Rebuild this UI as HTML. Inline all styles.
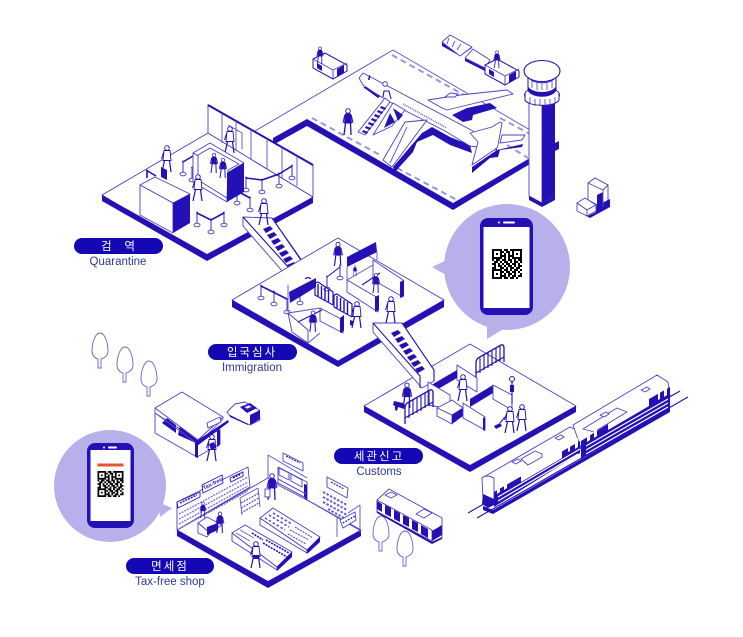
<!DOCTYPE html>
<html lang="ko"><head><meta charset="utf-8"><title>Airport diagram</title>
<style>
html,body{margin:0;padding:0;background:#fff;width:743px;height:637px;overflow:hidden}
svg{display:block}
.t{stroke:#5a50c8;stroke-width:.9;fill:none}
.w{stroke:#4a40c4;stroke-width:.9;fill:#fff;stroke-linejoin:round}
.b{fill:#2410b4}
.bs{stroke:#2410b4;fill:none;stroke-width:1.6}
.d{stroke:#9c96dc;stroke-width:2;stroke-dasharray:6 4;fill:none}
.s{stroke:#2410b4;stroke-width:1.1;fill:none}
.ko{font-family:"Liberation Sans","Noto Sans CJK KR",sans-serif;font-size:11.5px;fill:#fff;text-anchor:middle}
.en{font-family:"Liberation Sans","Noto Sans CJK KR",sans-serif;font-size:11.5px;fill:#2b3a9c;text-anchor:middle}
</style></head><body>
<svg width="743" height="637" viewBox="0 0 743 637" xmlns="http://www.w3.org/2000/svg">
<defs>
<symbol id="qr" viewBox="0 0 15 15" overflow="visible">
<path fill-rule="evenodd" d="M0 0h5v5h-5zM1 1v3h3v-3zM10 0h5v5h-5zM11 1v3h3v-3zM0 10h5v5h-5zM1 11v3h3v-3z"/>
<path d="M2 2h1v1h-1zM12 2h1v1h-1zM2 12h1v1h-1z"/>
<path stroke="#000" stroke-width="1" d="M6 .5h2M9 .5h1M5 1.500h1M7 1.500h2M6 2.500h1M8 2.500h1M5 3.500h2M8 3.500h2M6 4.500h1M8 4.500h1M0 5.500h1M2 5.500h2M5 5.500h2M8 5.500h2M11 5.500h1M13 5.500h2M1 6.500h2M4 6.500h1M6 6.500h2M9 6.500h1M11 6.500h2M14 6.500h1M0 7.500h2M3 7.500h1M5 7.500h1M7 7.500h2M10 7.500h2M13 7.500h1M1 8.500h1M3 8.500h2M6 8.500h1M8 8.500h2M11 8.500h1M13 8.500h2M0 9.500h2M4 9.500h2M7 9.500h1M9 9.500h2M12 9.500h2M6 10.500h2M9 10.500h1M11 10.500h2M14 10.500h1M5 11.500h1M7 11.500h2M10 11.500h2M13 11.500h1M6 12.500h1M8 12.500h2M11 12.500h1M14 12.500h1M5 13.500h2M8 13.500h1M10 13.500h2M13 13.500h2M6 14.500h2M9 14.500h2M12 14.500h1"/>
</symbol>
<g id="p">
<circle cx="0" cy="-24" r="2.300" fill="#fff" stroke="#2410b4" stroke-width=".9"/>
<path d="M-3-21.500h6l1 10h-8z" fill="#2410b4"/>
<path d="M-2.500-11.500L-4 0M2.500-11.500L3 0" stroke="#2410b4" stroke-width="1.300" fill="none"/>
<path d="M-3.300-20L-5-12M3.300-20L5-12" stroke="#2410b4" stroke-width="1" fill="none"/>
</g>
<g id="pw">
<circle cx="0" cy="-24" r="2.300" fill="#fff" stroke="#2410b4" stroke-width=".9"/>
<path d="M-3-21.500h6l1 10h-8z" fill="#fff" stroke="#2410b4" stroke-width=".9"/>
<path d="M-2.500-11.500L-5 0M2.500-11.500L4 0" stroke="#2410b4" stroke-width="1.200" fill="none"/>
<path d="M-3.300-20L-5.500-13" stroke="#2410b4" stroke-width="1" fill="none"/>
</g>
<g id="st">
<path d="M0 0v-12" stroke="#5a50c8" stroke-width="1.200"/>
<ellipse cx="0" cy="0" rx="3" ry="1.800" fill="#fff" stroke="#5a50c8" stroke-width="1"/>
<circle cx="0" cy="-12.500" r="1" fill="#5a50c8"/>
</g>
<g id="tree">
<path d="M0-33c-5 0-8 10-8 18 0 5 3 7 6 8v9h3v-9c3-1 7-3 7-8 0-8-3-18-8-18z" fill="#fff" stroke="#6a60cc" stroke-width=".9"/>
</g>
<g id="fence">
<path d="M0 0v-16q0-4 3-5.500L25-34q3-1 3 3v14" fill="none" stroke="#2410b4" stroke-width="1.300"/>
<path d="M0-6L28-22" stroke="#2410b4" stroke-width="1.100"/>
<path d="M4-21v15M8-24v15M12-26v15M16-28v15M20-31v15M24-33v15" stroke="#2410b4" stroke-width="1.100"/>
</g>
<g id="fs">
<path d="M0 0l3-1 15 10v13M0 0v12l18 10" fill="none" stroke="#2410b4" stroke-width="1.200"/>
<path d="M3 1v12M6.500 3v12M10 5v12M13.500 7v12" stroke="#2410b4" stroke-width="1.400"/>
</g>
<g id="tug">
<path d="M0 14l20 11 14-8v-3L20 22 0 11z" fill="#2410b4"/>
<path d="M0 5l12-6 22 12v6l-14 8L0 14z" fill="#fff" stroke="#2410b4" stroke-width="1"/>
<path d="M0 5l20 11 14-7M20 16v9" fill="none" stroke="#4a40c4" stroke-width=".9"/>
<path d="M24 15l7-4v8l-7 4z" fill="#2410b4"/>
<path d="M4 9l5 3v5l-5-3z" fill="#2410b4"/>
</g>
</defs>

<!-- Runway -->
<path class="t" d="M255 131L393 50L530 130"/>
<path class="b" d="M273 138L307 119L453 203L530 158V164L453 210L307 126L273 145z"/>
<path class="d" d="M312 118L380 155M397 168L457 200M392 55L473 100M500 118L530 134M507 145L528 158"/>

<!-- plane shadows -->
<path class="b" d="M363 87L378 98L382 95L370 87z"/>
<path class="b" d="M393 167L422 133L432 127L450 137L470 145L472 153L450 145L433 135L417 142L413 152L395 172z"/>
<path class="b" d="M452 115L467 108L490 103L497 108L473 115L472 120L463 122z"/>
<path class="b" d="M472 173V167L497 150L523 144L522 147L500 150L498 157L490 158z"/>
<!-- far wing -->
<path class="w" d="M428 100L460 95L507 90L513 94L447 110L442 108z"/>
<path class="w" d="M445 97l5-4 8 1-3 3z"/>
<!-- fuselage -->
<path class="w" d="M359 78L363 73L473 131L495 145L497 150L470 146L445 131L400 108L375 93L363 85z"/>
<path d="M403 104L447 128" stroke="#6a60cc" stroke-width="1.500" stroke-dasharray="1 1" fill="none"/>
<path class="b" d="M369 75l-1 5 1.500 0 1-4z"/>
<!-- near wing -->
<path class="w" d="M405 122L427 120L392 167L383 160z"/>
<path class="t" d="M407 127L390 163"/>
<!-- tail -->
<path class="w" d="M502 135L525 135L522 140L500 143z"/>
<path class="w" d="M470 133L492 127L500 122L502 123L498 145L497 148L472 165L478 142z"/>
<!-- stairs & truck -->
<path class="w" d="M358 132L385 98L390 102L365 135z"/>
<path class="b" d="M363 130l5 2-1 2-5-2zM366 126l5 2-1 2-5-2zM369 122l5 2-1 2-5-2zM372 118l5 2-1 2-5-2zM375 114l5 2-1 2-5-2zM378 110l5 2-1 2-5-2zM381 106l5 2-1 2-5-2z"/>
<path class="w" d="M373 135L393 103L405 110L392 126z"/>
<path class="b" d="M393 108L403 115L398 121zM390 113L395 122L384 128z"/>
<path class="s" d="M383 97l1-6h5l2 8"/>
<circle cx="385" cy="84" r="2.300" fill="#fff" stroke="#2410b4" stroke-width=".8"/>
<use href="#p" x="348" y="135"/>

<!-- tugs / carts -->
<use href="#tug" x="313" y="54"/>
<use href="#p" transform="translate(320,64) scale(.65)"/>
<path class="b" d="M442 42v4l18 10 12-8v-1l-12 9z"/>
<path class="w" d="M442 42L450 35L472 47L460 56z"/>
<path class="t" d="M449 38l-2 6M455 41l-3 6M461 44l-4 6"/>
<path class="b" d="M465 58v3l20 10v-3z"/>
<path class="w" d="M465 58L473 49L490 60L485 68z"/>
<use href="#tug" x="485" y="60"/>
<use href="#p" transform="translate(497,68) scale(.65)"/>

<!-- forklift -->
<path class="w" d="M588 183V200L603 208L608 200V185L595 178z"/>
<path class="b" d="M577 211L590 218L610 207V199L596 206V212L588 216z"/>
<path class="b" d="M597 195l6-3v12l-6 3z"/>
<path class="w" d="M588 183L595 178L608 185L603 190z"/>
<path class="t" d="M603 190v17"/>
<path class="w" d="M577 203L585 198L596 205L587 210z"/>
<path class="w" d="M577 203V211L587 216V210z"/>
<path class="w" d="M587 210L596 205V211L587 216z"/>

<!-- tower -->
<path class="w" d="M529 100H542V203L529 196z"/>
<path class="b" d="M542 102H555V196L542 203zM555 143l4-2v8l-4 2z"/>
<path class="b" d="M529 196l13 7 13-7v4l-13 7-13-7z"/>
<ellipse cx="542" cy="95" rx="17.500" ry="8" fill="#fff" stroke="#2410b4" stroke-width="1"/>
<path d="M525 93v7c3 7 31 7 34 0v-7" fill="#fff" stroke="#2410b4" stroke-width="1"/>
<path d="M530 97v7M535 99v7M540 99v7M545 99v7M550 99v7M555 97v7" stroke="#4a40c4" stroke-width=".8"/>
<path d="M528 76c3 9 25 9 28 0v14c-3 8-25 8-28 0z" fill="#fff" stroke="#2410b4" stroke-width="1"/>
<path d="M528 86c3 8 25 8 28 0v4c-3 9-25 9-28 0z" fill="#2410b4"/>
<path d="M532 80v8M537 82v8M542 82v8M547 82v8M552 80v8" stroke="#4a40c4" stroke-width=".8"/>
<ellipse cx="542" cy="71" rx="18" ry="10.500" fill="#fff" stroke="#2410b4" stroke-width="1.100"/>

<!-- Quarantine -->
<path class="w" d="M102 195L208 133L313 197L207 259z"/>
<path class="b" d="M102 195L207 254L313 197V203L207 261L102 201z"/>
<path class="w" d="M208 105L313 165V197L208 133z"/>
<path d="M208 105L313 165" stroke="#2410b4" stroke-width="2" fill="none"/>
<path class="t" d="M222 113v30M236 121v30M251 130v30M267 139v30M282 148v30M297 156v30"/>
<path class="t" d="M228 125l14 8v16"/>
<use href="#pw" x="230" y="153"/>
<use href="#pw" x="167" y="172"/>
<path class="b" d="M161 167l6 3v10l-6-3z"/>
<use href="#st" x="183" y="174"/><use href="#st" x="192" y="180"/>
<use href="#st" x="262" y="192"/><use href="#st" x="279" y="186"/><use href="#st" x="292" y="178"/>
<use href="#st" x="246" y="190"/>
<use href="#st" x="237" y="203"/><use href="#st" x="250" y="210"/>
<use href="#st" x="197" y="225"/><use href="#st" x="211" y="232"/><use href="#st" x="224" y="225"/>
<path class="bs" d="M183 162L193 156M262 180L279 174M279 174L292 166M246 178L262 180M237 191L250 198M197 213L211 220L224 213"/>
<path class="bs" d="M146 170l10 6M147 170v8"/>
<path class="w" d="M193 153L210 143L244 163L227 173z"/>
<path class="w" d="M193 153V182L227 202V173z"/>
<path class="w" d="M198 155l12-7 29 16-11 6L227 198 198 180z"/>
<use href="#p" transform="translate(214,173) scale(.75)"/>
<use href="#p" transform="translate(223,178) scale(.75)"/>
<path class="b" d="M227 173L244 163V192L227 202z"/>
<use href="#pw" x="198" y="201"/>
<path class="w" d="M140 185L155 177L190 194L173 203z"/>
<path class="w" d="M140 185V215L173 233V203z"/>
<path class="b" d="M173 203L190 194V223L173 233z"/>

<!-- escalator 1 -->
<path class="w" d="M243 217L272 218L303 262L304 273L290 280L243 226z"/>
<path class="s" d="M272 218L303 263V274M243 217L290 269V282" stroke-width="1.400"/>
<path class="b" d="M263 229l7-3 3 3-7 4zM267 235l7-3 3 3-7 4zM271 241l7-3 3 3-7 4zM275 247l7-3 3 3-7 4zM279 253l7-3 3 3-7 4zM283 259l7-3 3 3-7 4zM287 265l7-3 3 3-7 4z"/>
<use href="#pw" x="264" y="225"/>

<!-- Immigration -->
<path class="w" d="M232 300L338 238L444 300L338 361z"/>
<path class="b" d="M232 300L338 361L444 300V307L338 367L232 307z"/>
<path class="w" d="M373 260L403 280V297L373 280z"/>
<path class="b" d="M400 282l4-2v16l-4 2z"/>
<path class="w" d="M347 280L378 298V312L347 292z"/>
<path class="b" d="M375 297L379 295V310L375 312z"/>
<path class="t" d="M347 280L373 265"/>
<path class="s" d="M362 285L380 273"/>
<use href="#p" transform="translate(376,293) scale(.75)"/>
<path class="t" d="M347 267v14M377 252v8"/>
<path class="b" d="M347 257L376 242L377 252L347 267z"/>
<use href="#p" transform="translate(338,266) scale(.9)"/>
<use href="#p" transform="translate(355,276) scale(.4)"/>
<use href="#st" x="340" y="278"/><use href="#st" x="327" y="289"/>
<path class="s" d="M327 277L340 267"/>
<path class="t" d="M327 277v11"/>
<use href="#fs" x="315" y="283"/>
<use href="#fs" x="334" y="295"/>
<use href="#st" x="261" y="298"/><use href="#st" x="274" y="304"/><use href="#st" x="287" y="312"/>
<path class="bs" d="M261 286L287 299"/>
<use href="#st" x="300" y="303"/>
<path class="s" d="M305 279q3-3 6 0"/>
<path class="t" d="M288 285v27"/>
<path class="b" d="M289 292L316 278V287L290 303z"/>
<path class="w" d="M320 308L343 320V333L320 321z"/>
<path class="w" d="M288 313L308 330V343L292 332z"/>
<path class="t" d="M288 313L320 308M308 343L320 333"/>
<path class="s" d="M298 322L322 310"/>
<path class="b" d="M340 318l4-3v16l-4 2z"/>
<use href="#p" transform="translate(313,332) scale(.8)"/>
<use href="#pw" x="357" y="328"/>
<path class="b" d="M350 320l3 1v5l-3-1z"/>

<!-- Bubble 1 -->
<path fill="#b8b0ea" d="M432 267L447 260L455 280z"/>
<path fill="#b8b0ea" d="M487 339L487 322L505 328z"/>
<circle cx="507" cy="267" r="63" fill="#b8b0ea"/>
<rect x="480" y="218" width="53" height="97" rx="8" fill="#2410b4"/>
<rect x="483.500" y="227" width="46" height="81" fill="#fff"/>
<rect x="498" y="221.500" width="2" height="2" rx="1" fill="#fff"/>
<rect x="503" y="221.500" width="12" height="2" rx="1" fill="#fff"/>
<use href="#qr" x="492" y="249" width="30" height="30"/>

<!-- Customs -->
<path class="w" d="M364 406L470 344L576 406L470 466z"/>
<path class="b" d="M364 406L470 465L576 406V412L470 472L364 412z"/>
<path class="w" d="M373 323L402 323L434 370L434 381L422 388L373 332z"/>
<path class="s" d="M402 323L434 370V381M373 323L420 376V388" stroke-width="1.400"/>
<path class="b" d="M391 333l7-3 3 3-7 4zM395 339l7-3 3 3-7 4zM399 345l7-3 3 3-7 4zM403 351l7-3 3 3-7 4zM407 357l7-3 3 3-7 4zM411 363l7-3 3 3-7 4zM415 369l7-3 3 3-7 4z"/>
<use href="#pw" x="391" y="323"/>
<use href="#fence" x="476" y="379"/>
<path class="w" d="M457 365L477 378V392L457 380z"/>
<path class="b" d="M433 384L457 370V378L433 392zM470 399L493 385V393L470 407z"/>
<path class="w" d="M428 382L450 395V409L428 405z"/>
<path class="w" d="M493 385L512 395V410L493 399z"/>
<path class="w" d="M437 408L452 400L463 408L452 415z"/>
<path class="w" d="M437 408V416L452 424V415z"/>
<path class="b" d="M452 415L463 408V416L452 424z"/>
<path class="w" d="M463 403L485 417V430L463 418z"/>
<path class="b" d="M483 418l2-1v14l-2-1z"/>
<use href="#pw" x="463" y="401"/>
<use href="#fence" x="405" y="424"/>
<use href="#p" transform="translate(407,408) scale(.95)"/>
<path class="b" d="M394 401l9 2 3 3-2 3-6-2-1 4-2-1 0-4-2-1z"/>
<path class="s" d="M512 404V378"/><circle cx="512" cy="379" r="2.500" fill="#fff" stroke="#2410b4"/>
<rect x="510" y="385" width="4" height="7" class="b"/>
<use href="#pw" x="510" y="433"/>
<use href="#pw" x="522" y="431"/>
<path class="b" d="M494 426l6-3 2 3-6 3z"/>
<path class="s" d="M500 423l5-6"/>

<!-- Train -->
<path class="s" d="M468 513L680 391M477 518L688 397" stroke-width="1.400"/>
<path class="w" d="M482 478L570 427L578 431L580 450L493 505z"/>
<path class="w" d="M573 425L657 375L668 382L670 396L581 448z"/>
<path class="w" d="M482 478Q486 474 494 478L494 503L483 499z"/>
<path class="b" d="M494 492L520 477L561 452L580 441L580 453L494 507z"/>
<path class="b" d="M581 441L608 424L649 399L670 387L670 409L581 459z"/>
<path class="b" d="M483 494l11 5v6l-6 3-6-4z"/>
<path fill="#fff" d="M521 475L562 451V458L521 482zM608 422L649 398V406L608 430z"/>
<path d="M498 497L580 449M498 501L578 454M586 446L668 399M586 450L668 403M586 454L668 407" stroke="#fff" stroke-width="1.200" fill="none"/>
<path class="w" d="M521 459l14-8 7 3v3l-14 8zM583 429L617 408L627 412L594 432z"/>
<path class="w" d="M512 462l6-3 3 2-5 3zM555 438l6-3 3 2-5 3zM600 415l6-3 3 2-5 3zM641 390l6-3 3 2-5 3z"/>
<path d="M497 484l3-2v10l-3 2zM504 480l3-2v10l-3 2zM568 444l2-1v8l-2 1zM575 440l3-2v9l-3 2zM587 433l3-2v9l-3 2zM594 429l3-2v9l-3 2zM658 392l2-1v8l-2 1zM664 389l3-2v8l-3 2z" fill="#fff"/>
<path d="M483 506L493 510L670 408V412L493 514L483 510z" fill="#2410b4"/>

<!-- Booth & car -->
<path class="w" d="M155 413V433L197 457L220 444V430L197 440z"/>
<path class="b" d="M162 423L167 418L176 425V433zM178 435L180 425L197 435L198 444z"/>
<path class="w" d="M155 408L182 392L223 417L198 440z"/>
<path class="t" d="M155 408v5L198 444l25-25v-2"/>
<path class="b" d="M195 442L228 420L229 422L197 446z"/>
<path class="w" d="M207 423L220 417L221 422L208 428z"/>
<path class="b" d="M217 431l3-2v16l-3 2zM195 443l3-1v16l-3-1z"/>
<use href="#pw" x="212" y="461"/>
<path class="b" d="M209 444l5-2 2 6-5 2z"/>
<path class="w" d="M227 412L235 404L245 402L259 410L260 420L250 425L230 416z"/>
<path class="b" d="M240 407L250 403L257 408L247 413zM250 415L260 410V419L250 425zM230 415l18 9v1l-18-8z"/>
<path class="w" d="M244 407l5-2 3 2-5 2z"/>

<!-- trees -->
<use href="#tree" x="100" y="366"/>
<use href="#tree" x="125" y="380"/>
<use href="#tree" x="149" y="394"/>

<!-- Bus -->
<path class="w" d="M377 500L389 489L442 518L442 538L432 542L377 512z"/>
<path class="w" d="M377 500L432 530V541L377 512z"/>
<path class="b" d="M377 501l5 3v8l-5-3zM385 505l6 3v9l-6-3zM394 510l6 3v9l-6-3zM403 515l6 3v9l-6-3zM412 520l6 3v9l-6-3zM421 525l7 4v9l-7-4z"/>
<path class="b" d="M432 531l10-6v10l-10 6zM377 511l55 31 10-5v2l-10 5-55-31z"/>
<path class="w" d="M416 514l8-5 8 4-8 5zM385 495l6-3 6 3-6 3z"/>
<use href="#tree" x="381" y="549"/>
<use href="#tree" x="405" y="564"/>

<!-- Shop -->
<path class="w" d="M177 530L268 478L361 530L268 582z"/>
<path class="b" d="M177 530L268 581L361 530V536L268 588L177 536z"/>
<path class="w" d="M177 502L248 467L250 487L177 530z"/>
<path class="t" d="M268 455V478M268 455L307 478M307 500L361 531M360 505V533M348 513L360 505"/>
<g stroke="#7a70d4" stroke-width="1.300" fill="none" stroke-dasharray="2 1">
<path d="M179 514L248 477M179 519L248 482M179 524L248 486M179 529L248 491"/>
</g>
<path d="M177 502L200 492L200 497L178 508zM202 485L222 475L223 483L203 493zM230 478L243 472L243 476L231 482z" fill="#fff" stroke="#2410b4" stroke-width=".9"/>
<path d="M180 503l17-8M233 478l8-4" stroke="#2410b4" stroke-width="1.500" stroke-dasharray="2 1"/>
<text x="204" y="490" transform="rotate(-27 204 490)" font-family="Liberation Sans,sans-serif" font-size="5.500" font-weight="700" fill="#2410b4">Tax-free</text>
<path class="w" d="M283 453L303 463V471L283 461z"/>
<path class="s" d="M286 456l14 7" stroke-width="1.400" stroke-dasharray="2 1"/>
<path class="w" d="M278 467L307 482V500L278 485z"/>
<path class="w" d="M279 468l10 5v7l-10-5zM291 474l11 6v7l-11-6z"/>
<path class="b" d="M304 484l3 1v15l-3-2z"/>
<g stroke="#5a50c8" stroke-width="1" fill="none"><path d="M278 479l28 15M278 483l28 15"/></g>
<use href="#p" transform="translate(272,500) scale(1)"/>
<path class="w" d="M265 489h5v8h-5z"/>
<g stroke="#5a50c8" stroke-width="1.200" fill="none" stroke-dasharray="2 1"><path d="M241 503l18-10M241 508l18-10M241 513l18-10"/></g>
<path class="t" d="M240 498L258 488M240 498l2 17M258 488l2 19"/>
<path class="w" d="M327 477L348 488L347 498L327 487z"/>
<path class="s" d="M331 482l13 7" stroke-width="1.400" stroke-dasharray="2 1"/>
<g stroke="#6a60cc" stroke-width="2" fill="none" stroke-dasharray="2.500 1.500"><path d="M323 492l24 13M323 497l24 13M323 502l24 13M328 509l16 9"/></g>
<path class="t" d="M337 517v20"/>
<path class="w" d="M340 520L355 512L356 520L343 528z"/>
<path d="M343 523l12-7" stroke="#2410b4" stroke-width="1.500" stroke-dasharray="1.500 1.500" fill="none"/>
<path class="w" d="M260 518V525L307 553L307 550z"/>
<path class="w" d="M260 518L273 508L320 537L307 550z"/>
<path class="b" d="M307 550L320 537V542L307 554z"/>
<g stroke="#5a50c8" stroke-width="1.600" fill="none" stroke-dasharray="2.500 2"><path d="M265 518L285 530M269 515L289 527M273 513L292 524"/></g>
<g stroke="#4a40c4" stroke-width="1" fill="none" stroke-dasharray="2 1"><path d="M290 530L309 540M295 527L313 538M288 534L306 544"/></g>
<path class="w" d="M232 533V541L277 570L277 567z"/>
<path class="w" d="M232 533L245 525L292 552L277 567z"/>
<path class="b" d="M277 567L292 552V557L277 571z"/>
<g stroke="#2410b4" stroke-width="1.600" fill="none" stroke-dasharray="2 1"><path d="M252 533L263 540M263 543L287 557M266 540L289 553"/></g>
<g stroke="#6a60cc" stroke-width="1" fill="none"><path d="M236 533L250 541M240 530L254 538"/></g>
<path class="w" d="M198 523L207 517L222 525L210 533z"/>
<path class="w" d="M198 523V533L207 537L210 533z"/>
<path class="b" d="M207 527L218 523V530L207 535z"/>
<use href="#p" transform="translate(203,518) scale(.6)"/>
<use href="#p" transform="translate(220,533) scale(.8)"/>
<use href="#pw" transform="translate(256,568)"/>
<path class="b" d="M253 555h6v4h-6z"/>

<!-- Bubble 2 -->
<path fill="#b8b0ea" d="M172 508L158 502L160 517z"/>
<circle cx="110" cy="486" r="56" fill="#b8b0ea"/>
<rect x="87" y="443" width="47" height="85" rx="8" fill="#2410b4"/>
<rect x="90.500" y="450" width="40" height="71" fill="#fff"/>
<rect x="103" y="446.500" width="2" height="2" rx="1" fill="#fff"/>
<rect x="108" y="446.500" width="9" height="2" rx="1" fill="#fff"/>
<rect x="97.500" y="463.500" width="26" height="3" fill="#e5552f"/>
<use href="#qr" x="97.500" y="471" width="26" height="26"/>

<!-- Labels -->
<rect x="74" y="238" width="89" height="16" rx="8" fill="#1407b4"/>
<text class="ko" x="118" y="250" xml:space="preserve">검    역</text>
<text class="en" x="118" y="265">Quarantine</text>
<rect x="208" y="344" width="89" height="16" rx="8" fill="#1407b4"/>
<text class="ko" x="252" y="356" letter-spacing="2">입국심사</text>
<text class="en" x="252" y="371">Immigration</text>
<rect x="334" y="448" width="89" height="16" rx="8" fill="#1407b4"/>
<text class="ko" x="379" y="460" letter-spacing="2">세관신고</text>
<text class="en" x="379" y="475">Customs</text>
<rect x="126" y="558" width="88" height="16" rx="8" fill="#1407b4"/>
<text class="ko" x="170" y="570" letter-spacing="2">면세점</text>
<text class="en" x="170" y="585">Tax-free shop</text>
</svg>
</body></html>
